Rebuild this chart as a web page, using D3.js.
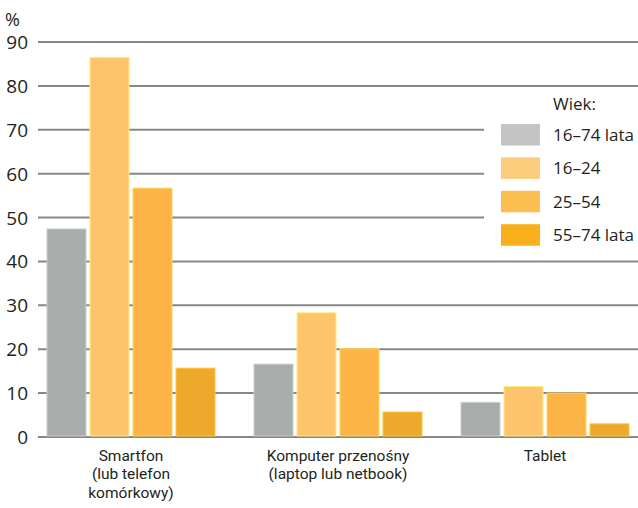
<!DOCTYPE html>
<html><head><meta charset="utf-8">
<script src="https://cdn.jsdelivr.net/npm/d3@7"></script>
<style>body{margin:0;background:#fff}text{font-family:"Open Sans","Noto Sans",sans-serif;fill:#231f20}text.xl{font-family:Roboto,"Open Sans",sans-serif}</style>
</head><body><svg id="c" width="638" height="508"></svg>
<script>
const categories = [["Smartfon","(lub telefon","komórkowy)"],["Komputer przenośny","(laptop lub netbook)"],["Tablet"]];
const seriesNames = ["16–74 lata","16–24","25–54","55–74 lata"];
const s1674 = [47.4, 16.6, 7.9];
const s1624 = [86.5, 28.3, 11.5];
const s2554 = [56.7, 20.1, 10.0];
const s5574 = [15.7, 5.7, 3.0];
const yTicks = [0,10,20,30,40,50,60,70,80,90];
const barColors = ["#a8acab","#fdc46c","#fbb445","#eea82b"];
const legendColors = ["#c4c4c4","#fdcd7e","#fcbe50","#f9b01d"];
const series = [s1674, s1624, s2554, s5574];

const svg = d3.select("#c");
const y = d3.scaleLinear().domain([0,90]).range([437,42]);
const x0 = d3.scaleBand().domain(d3.range(categories.length)).range([27.5,648.5]);
const x1 = d3.scaleBand().domain(d3.range(seriesNames.length)).range([19.5,187.5]).paddingInner(0.093);

// gridlines
svg.append("g").selectAll("line").data(yTicks).join("line")
  .attr("x1",38).attr("x2",638).attr("y1",d=>y(d)).attr("y2",d=>y(d))
  .attr("stroke","#878787").attr("stroke-width",2);
svg.append("g").selectAll("text").data(yTicks).join("text")
  .attr("x",28).attr("y",d=>y(d)+7).attr("text-anchor","end").attr("font-size",19).text(d=>d);
svg.append("text").attr("x",5).attr("y",26).attr("font-size",18).text("%");

// bars
const g = svg.append("g").selectAll("g").data(categories).join("g")
  .attr("transform",(d,i)=>`translate(${x0(i)},0)`);
g.selectAll("rect").data((d,i)=>series.map((s,k)=>({k,v:s[i]}))).join("rect")
  .attr("x",d=>x1(d.k)).attr("width",x1.bandwidth())
  .attr("y",d=>y(d.v)).attr("height",d=>y(0)-y(d.v)-1)
  .attr("fill",d=>barColors[d.k])
  .attr("stroke",d=>d3.color(barColors[d.k]).brighter(0.5)).attr("stroke-width",1);

// x labels
g.each(function(lines,i){
  lines.forEach((l,j)=>d3.select(this).append("text").attr("class","xl").attr("text-anchor","middle").attr("font-size",15.5)
    .attr("x",x0.bandwidth()/2).attr("y",461+j*18.3).text(l));
});

// legend
const lg = svg.append("g");
lg.append("rect").attr("x",484).attr("y",93).attr("width",154).attr("height",162).attr("fill","#fff");
lg.append("text").attr("x",553).attr("y",110).attr("font-size",17).text("Wiek:");
seriesNames.forEach((n,k)=>{
  lg.append("rect").attr("x",501).attr("y",124+k*33.4).attr("width",39).attr("height",21.5).attr("fill",legendColors[k]);
  lg.append("text").attr("x",553).attr("y",141+k*33.4).attr("font-size",17).text(n);
});
</script></body></html>
